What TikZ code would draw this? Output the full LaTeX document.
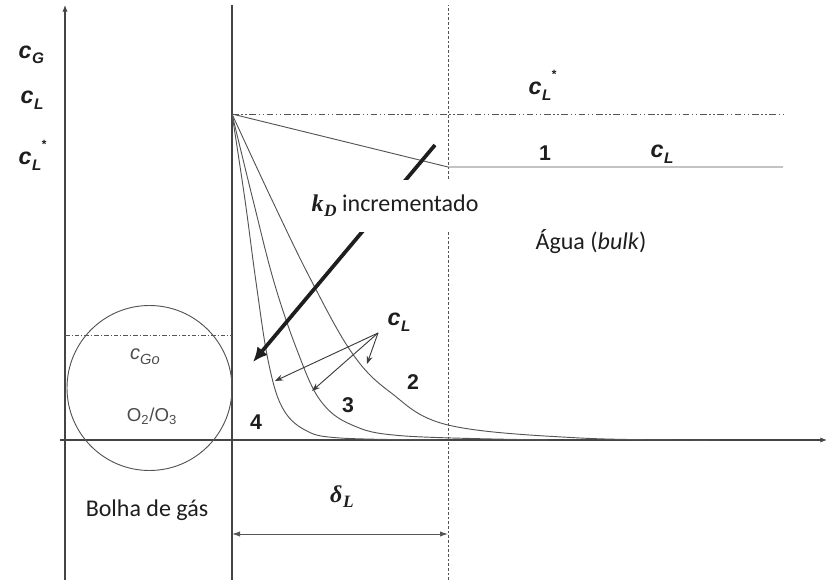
\documentclass[tikz,border=0pt]{standalone}
\usepackage{amsmath}
\usepackage{fontspec}
\setmainfont{Carlito}
\newfontfamily\arial{Liberation Sans}
\newfontfamily\tnr{Liberation Serif}
\usetikzlibrary{arrows.meta,positioning,calc}
\newcommand{\conc}[2]{{c\kern0.3pt\raisebox{-0.45ex}{\fontsize{11.5}{12}\selectfont #1}#2}}
\newcommand{\estr}{\raisebox{1.35ex}{\fontsize{9}{9}\selectfont *}}
\newcommand{\grk}[2]{{\tnr\bfseries\itshape #1\kern0.5pt\raisebox{-0.45ex}{\fontsize{13}{14}\selectfont #2}}}
\definecolor{traco}{HTML}{555555}
\definecolor{letra}{HTML}{1E1E1E}
\tikzset{
  linha/.style={draw=traco,line width=0.7pt},
  eixo/.style={draw=traco!80!black,line width=0.9pt},
  tracej/.style={draw=traco,line width=0.7pt,dash pattern=on 2pt off 1.5pt},
  pontil/.style={draw=traco,line width=0.7pt,dash pattern=on 5pt off 2pt on 1pt off 2pt on 1pt off 2pt},
  pontil2/.style={draw=traco,line width=0.5pt,dash pattern=on 3.5pt off 1.5pt on 0.8pt off 1.5pt},
  nyil/.style={-{Latex[length=5pt,width=4pt]}},
  fina/.style={draw=traco!70!black,line width=0.7pt,-{Stealth[length=6pt,width=4.5pt]}},
  grossa/.style={draw=letra,line width=2.8pt,-{Latex[length=11pt,width=10pt]}},
  conc/.style={text=letra,font=\fontsize{17.5}{20}\selectfont\arial\bfseries\itshape},
  num/.style={text=letra,font=\fontsize{16}{19}\selectfont\arial\bfseries},
  texto/.style={text=letra,font=\fontsize{18}{21}\selectfont},
  gas/.style={text=letra!80,font=\fontsize{14}{17}\selectfont\arial},
}
\begin{document}
\begin{tikzpicture}[x=0.75pt,y=-0.75pt]
  \useasboundingbox (0,0) rectangle (828,580);
  \coordinate (eyb) at (65,580);  \coordinate (eyt) at (65,5);
  \coordinate (exl) at (60,440);  \coordinate (exr) at (827,440);
  \coordinate (ib) at (232,580);  \coordinate (it) at (232,5);
  \coordinate (fb) at (448,580);  \coordinate (ft) at (448,5);
  \coordinate (v) at (232,114);   \coordinate (se) at (783,114);
  \coordinate (c1) at (448,167);  \coordinate (c1e) at (783,167);
  \coordinate (gl) at (65,335);   \coordinate (gr) at (232,335);
  \coordinate (da) at (232,534);  \coordinate (db) at (448,534);
  \coordinate (ka) at (435,145);  \coordinate (kb) at (253,362);
  \coordinate (cp) at (378,333);
  \coordinate (p2) at (367,364);  \coordinate (p3) at (312,391);
  \coordinate (p4) at (275,381);

  \draw[eixo,nyil] (eyb) -- (eyt);
  \draw[eixo,nyil] (exl) -- (exr);
  \draw[eixo] (ib) -- (it);
  \draw[tracej] (fb) -- (ft);
  \draw[pontil] (v) -- (se);
  \draw[linha] (v) -- (c1) -- (c1e);

  \node[circle,draw=traco,line width=0.7pt,minimum size=123.75pt,inner sep=0pt] (bolha) at (149.5,388) {};
  \draw[pontil2] (gl) -- (gr);

  \draw[linha] plot[smooth,tension=0.6] coordinates {(v) (272,200) (311,280) (352,353)
    (390,392) (448,425) (580,438) (720,440)};
  \draw[linha] plot[smooth,tension=0.6] coordinates {(v) (253,200) (274,282) (297,350)
    (320,400) (352,425) (405,436) (550,440)};
  \draw[linha] plot[smooth,tension=0.6] coordinates {(v) (245,200) (256,282) (268,360)
    (282,407) (305,430) (340,438) (440,440)};

  \draw[grossa] (ka) -- (kb);
  \node[texto,fill=white,minimum height=39pt,inner xsep=1pt] (kd) at (395,206) {\grk{k}{D} incrementado};

  \draw[fina] (cp) -- (p2);
  \draw[fina] (cp) -- (p3);
  \draw[fina] (cp) -- (p4);
  \draw[linha,{Latex[length=6pt,width=4pt]}-{Latex[length=6pt,width=4pt]}] (da) -- (db);

  \node[conc,anchor=west] (cG) at (14,55) {\conc{G}{}};
  \node[conc,anchor=west] (cL) at (16,100) {\conc{L}{}};
  \node[conc,anchor=west] (cLs) at (14,155) {\conc{L}{\estr}};
  \node[conc,anchor=west] (cLsd) at (524,85) {\conc{L}{\estr}};
  \node[num] (n1) at (545,153) {1};
  \node[conc,anchor=west] (cLd) at (646,154) {\conc{L}{}};
  \node[texto] (agua) at (591,242) {Água (\textit{bulk})};
  \node[conc,anchor=west] (cLc) at (383,322) {\conc{L}{}};
  \node[num] (n2) at (413,382) {2};
  \node[num] (n3) at (348,405) {3};
  \node[num] (n4) at (256,422) {4};
  \node[gas,font=\fontsize{15}{17}\selectfont\arial\itshape] (cGo) at (145,357) {c\raisebox{-0.45ex}{\fontsize{11}{12}\selectfont Go}};
  \node[gas] (o2o3) at (152,416) {O\textsubscript{2}/O\textsubscript{3}};
  \node[texto] (bolhat) at (147,510) {Bolha de gás};
  \node[texto] (delta) at (342,497) {\grk{δ}{L}};
\end{tikzpicture}
\end{document}
